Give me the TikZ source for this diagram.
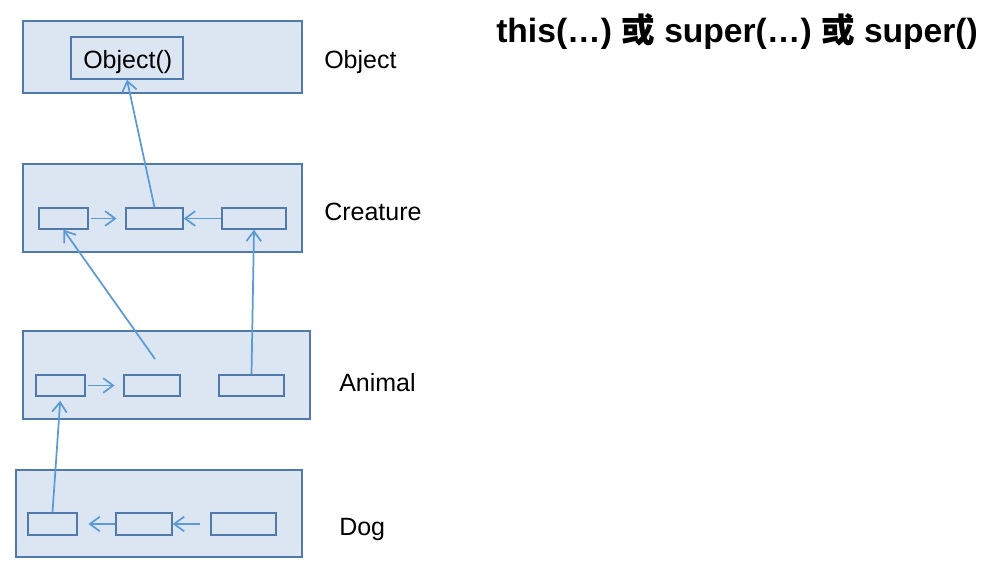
\documentclass[tikz,border=0pt]{standalone}
\usepackage{fontspec}
\setmainfont{Liberation Sans}
\newfontfamily\cjk{Noto Sans CJK SC}
\usetikzlibrary{arrows.meta,fit}
\definecolor{boxfill}{HTML}{DCE6F2}
\definecolor{boxline}{HTML}{5079AC}
\definecolor{arrcol}{HTML}{5B9BD5}
\begin{document}
\begin{tikzpicture}[x=0.75pt,y=-0.75pt,
  outer/.style={draw=boxline,fill=boxfill,line width=1.1pt,inner sep=0pt},
  cell/.style={draw=boxline,fill=boxfill,line width=1.1pt,inner sep=0pt},
  lbl/.style={anchor=base west,inner sep=0pt,font=\fontsize{18.75}{22}\selectfont},
  arr/.style={draw=arrcol,line width=1.3pt,-{Straight Barb[length=7.5pt,width=11pt,line width=1.3pt]}}]
\useasboundingbox (0,0) rectangle (985,564);
% layers
\node[outer,fit={(23,21) (302,93)}] (objbox) {};
\node[outer,fit={(23,164) (302,252)}] (crebox) {};
\node[outer,fit={(23,331) (310,419)}] (anibox) {};
\node[outer,fit={(16,470) (302,557)}] (dogbox) {};
% cells
\node[cell,fit={(71,37) (183,79)}] (objin) {};
\node[lbl] (objtxt) at (83,68) {Object()};
\node[cell,fit={(39,208) (88,229)}] (c1) {};
\node[cell,fit={(126,208) (183,229)}] (c2) {};
\node[cell,fit={(222,208) (286,229)}] (c3) {};
\node[cell,fit={(36,375) (85,396)}] (a1) {};
\node[cell,fit={(124,375) (180,396)}] (a2) {};
\node[cell,fit={(219,375) (284,396)}] (a3) {};
\node[cell,fit={(28,513) (77,535)}] (d1) {};
\node[cell,fit={(116,513) (172,535)}] (d2) {};
\node[cell,fit={(211,513) (276,535)}] (d3) {};
\coordinate (pa) at (155,359);
% labels
\node[lbl] (lobj) at (324,68) {Object};
\node[lbl] (lcre) at (324,220) {Creature};
\node[lbl] (lani) at (339,391) {Animal};
\node[lbl] (ldog) at (339,535) {Dog};
\node[anchor=base west,inner sep=0pt,font=\fontsize{25.2}{29}\selectfont\bfseries] (title) at (496,42)
  {this(\dots) {\cjk 或} super(\dots) {\cjk 或} super()};
% connectors
\draw[arr,shorten <=1.5pt,shorten >=6.5pt] (c1) -- (c2);
\draw[arr] (c3) -- (c2);
\draw[arr] (c2.north) -- (objin.south);
\draw[arr] (pa) -- (c1.south);
\draw[arr] (a3.north) -- (c3.south);
\draw[arr,shorten <=2pt,shorten >=6.5pt] (a1) -- (a2);
\draw[arr,shorten >=8pt] (d2) -- (d1);
\draw[arr,shorten <=7.5pt] (d3) -- (d2);
\draw[arr,shorten >=3pt] (d1.north) -- (a1.south);
\end{tikzpicture}
\end{document}
